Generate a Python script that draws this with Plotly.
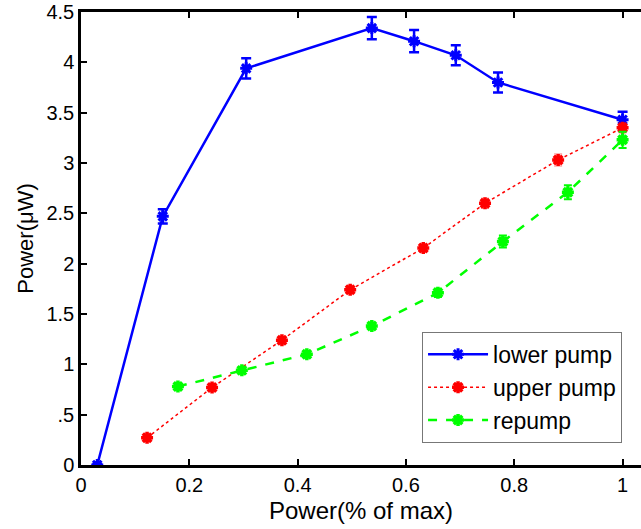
import plotly.graph_objects as go

# Data
lower_x = [0.03, 0.151, 0.305, 0.537, 0.615, 0.692, 0.770, 1.0]
lower_y = [0.0, 2.47, 3.94, 4.34, 4.21, 4.07, 3.80, 3.43]
lower_err = [0.01, 0.07, 0.10, 0.11, 0.11, 0.10, 0.10, 0.08]

upper_x = [0.122, 0.242, 0.371, 0.497, 0.632, 0.746, 0.881, 1.0]
upper_y = [0.27, 0.77, 1.24, 1.74, 2.155, 2.60, 3.03, 3.35]
upper_err = [0.02, 0.02, 0.03, 0.03, 0.04, 0.05, 0.06, 0.05]

repump_x = [0.179, 0.297, 0.417, 0.537, 0.659, 0.779, 0.899, 1.0]
repump_y = [0.78, 0.94, 1.10, 1.38, 1.71, 2.22, 2.71, 3.23]
repump_err = [0.02, 0.02, 0.03, 0.03, 0.04, 0.06, 0.07, 0.08]

y_tickvals = [0, 0.5, 1, 1.5, 2, 2.5, 3, 3.5, 4, 4.5]
y_ticktext = ["0", ".5", "1", "1.5", "2", "2.5", "3", "3.5", "4", "4.5"]
x_tickvals = [0, 0.2, 0.4, 0.6, 0.8, 1]
x_ticktext = ["0", "0.2", "0.4", "0.6", "0.8", "1"]

fig = go.Figure()

fig.add_trace(go.Scatter(
    x=lower_x, y=lower_y, name="lower pump", mode="lines+markers",
    line=dict(color="#0000ff", width=2.5),
    marker=dict(symbol="asterisk-open", size=10, color="#0000ff",
                line=dict(color="#0000ff", width=3)),
    error_y=dict(type="data", array=lower_err, visible=True,
                 color="#0000ff", thickness=2.5, width=5),
))
fig.add_trace(go.Scatter(
    x=upper_x, y=upper_y, name="upper pump", mode="lines+markers",
    line=dict(color="#ff0000", width=1.5, dash="dot"),
    marker=dict(symbol="asterisk-open", size=10, color="#ff0000",
                line=dict(color="#ff0000", width=3.5)),
    error_y=dict(type="data", array=upper_err, visible=True,
                 color="rgba(255,0,0,0.5)", thickness=1, width=4),
))
fig.add_trace(go.Scatter(
    x=repump_x, y=repump_y, name="repump", mode="lines+markers",
    line=dict(color="#00ff00", width=2.5, dash="dash"),
    marker=dict(symbol="asterisk-open", size=10, color="#00ff00",
                line=dict(color="#00ff00", width=3.5)),
    error_y=dict(type="data", array=repump_err, visible=True,
                 color="#00ff00", thickness=2, width=4),
))

font_family = "Liberation Sans, Arial, sans-serif"

fig.update_layout(
    width=641, height=529,
    margin=dict(l=81, r=0, t=12, b=64),
    paper_bgcolor="white", plot_bgcolor="white",
    font=dict(family=font_family, size=19, color="black"),
    showlegend=True,
    legend=dict(
        x=0.609, y=0.294, xanchor="left", yanchor="top",
        bgcolor="white", bordercolor="#777777", borderwidth=1,
        font=dict(size=23, family=font_family),
        tracegroupgap=0, itemwidth=60,
    ),
    xaxis=dict(
        range=[0, 1.034], tickvals=x_tickvals, ticktext=x_ticktext,
        ticks="inside", ticklen=6, tickwidth=2, tickcolor="black",
        showline=True, linecolor="black", linewidth=2.5, mirror="ticks",
        showgrid=False, zeroline=False, automargin=False,
        title=dict(text="Power(% of max)", font=dict(size=24), standoff=8),
        tickfont=dict(size=20),
    ),
    yaxis=dict(
        range=[0, 4.5], tickvals=y_tickvals, ticktext=y_ticktext,
        ticks="inside", ticklen=6, tickwidth=2, tickcolor="black",
        showline=True, linecolor="black", linewidth=2.5,
        showgrid=False, zeroline=False, automargin=False,
        title=dict(text="Power(μW)", font=dict(size=22), standoff=7),
        tickfont=dict(size=20),
    ),
)

# remove the default page margin so the figure fills the window exactly
fig.write_html("out.html", config={"displayModeBar": False},
               post_script="document.body.style.margin='0';")
